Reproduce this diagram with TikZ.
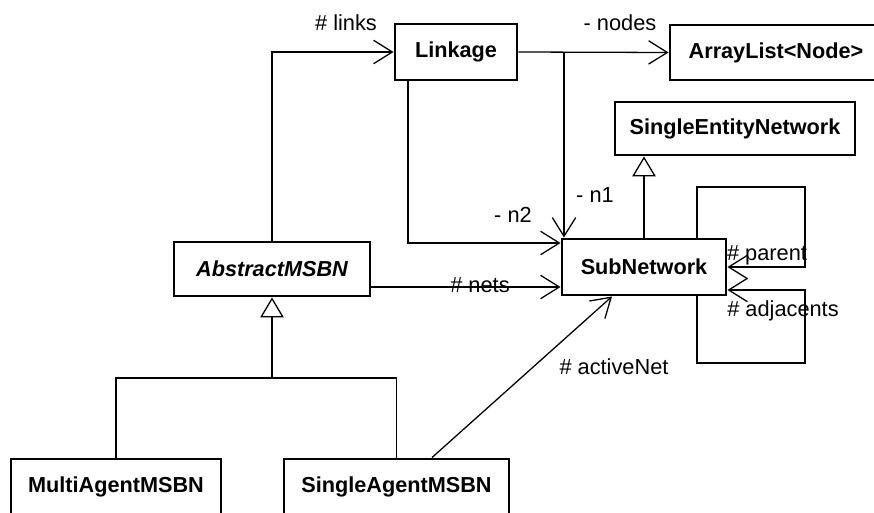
\documentclass[tikz,border=0pt]{standalone}
\usepackage{fontspec}
\setmainfont{Liberation Sans}
\usetikzlibrary{arrows.meta}

\begin{document}
\begin{tikzpicture}[x=0.03cm,y=-0.03cm,
        font=\fontsize{18.6}{20}\selectfont,
        cls/.style={draw,line width=2.5pt,inner sep=0pt,font=\fontsize{18.5}{20}\selectfont\bfseries},
        assoc/.style={line width=1.1pt,-{Straight Barb[length=16pt,width=20pt,line width=1.1pt]}},
        inherit/.style={line width=1.1pt,-{Triangle[open,fill=white,length=17pt,width=20pt,line width=1.1pt]}},
        lbl/.style={inner sep=0pt}]
        \useasboundingbox (0,0) rectangle (874,513);
        \clip (0,0) rectangle (874,513);

        \node[cls,minimum width=3.66cm,minimum height=1.68cm] (link) at (456,52) {Linkage};
        \node[cls,minimum width=6.36cm,minimum height=1.65cm] (list) at (776,52.5) {ArrayList<Node>};
        \node[cls,minimum width=7.2cm,minimum height=1.59cm] (sen) at (735,128.5) {SingleEntityNetwork};
        \node[cls,minimum width=4.92cm,minimum height=1.68cm] (sub) at (644,267) {SubNetwork};
        \node[cls,minimum width=5.88cm,minimum height=1.62cm] (abs) at (272,269) {\itshape AbstractMSBN};
        \node[cls,minimum width=6.3cm,minimum height=1.68cm] (multi) at (116,487) {MultiAgentMSBN};
        \node[cls,minimum width=6.75cm,minimum height=1.68cm] (single) at (396.5,487) {SingleAgentMSBN};

        \coordinate (j1) at (564,52);
        \coordinate (j2) at (408,243);
        \coordinate (fork) at (272,378);
        \coordinate (pa) at (697,187);
        \coordinate (pb) at (805,267);
        \coordinate (aa) at (697,363);
        \coordinate (ab) at (805,290);

        % associations
        \draw[assoc] (abs.north) |- (link.west);
        \draw[assoc] (link.east) -- (list.west);
        \draw[assoc] (j1) -- (j1 |- sub.north);
        \draw[assoc] (j2 |- link.south) -- (j2) -- (j2 -| sub.west);
        \draw[assoc] (abs.east |- 0,287) -- (sub.west |- 0,287);
        \draw[assoc] (single.north -| 432,0) -- (sub.south -| 612,0);
        \draw[assoc] (pa |- sub.north) -- (pa) -| (pb) -- (pb -| sub.east);
        \draw[assoc] (aa |- sub.south) -- (aa) -| (ab) -- (ab -| sub.east);

        % generalizations
        \draw[inherit] (sub.north) -- (sub.north |- sen.south);
        \draw[line width=1.1pt] (multi.north) |- (fork);
        \draw[line width=1.1pt] (single.north) |- (fork);
        \draw[inherit] (fork) -- (abs.south);

        \node[lbl] (tlinks) at (346,23) {\# links};
        \node[lbl] (tnodes) at (620,23) {- nodes};
        \node[lbl] (tn1) at (595,195) {- n1};
        \node[lbl] (tn2) at (513,215) {- n2};
        \node[lbl] (tnets) at (480,285) {\# nets};
        \node[lbl] (tactive) at (614,367) {\# activeNet};
        \node[lbl] (tparent) at (767,255) {\# parent};
        \node[lbl] (tadj) at (783,311) {\# adjacents};
    \end{tikzpicture}
\end{document}
